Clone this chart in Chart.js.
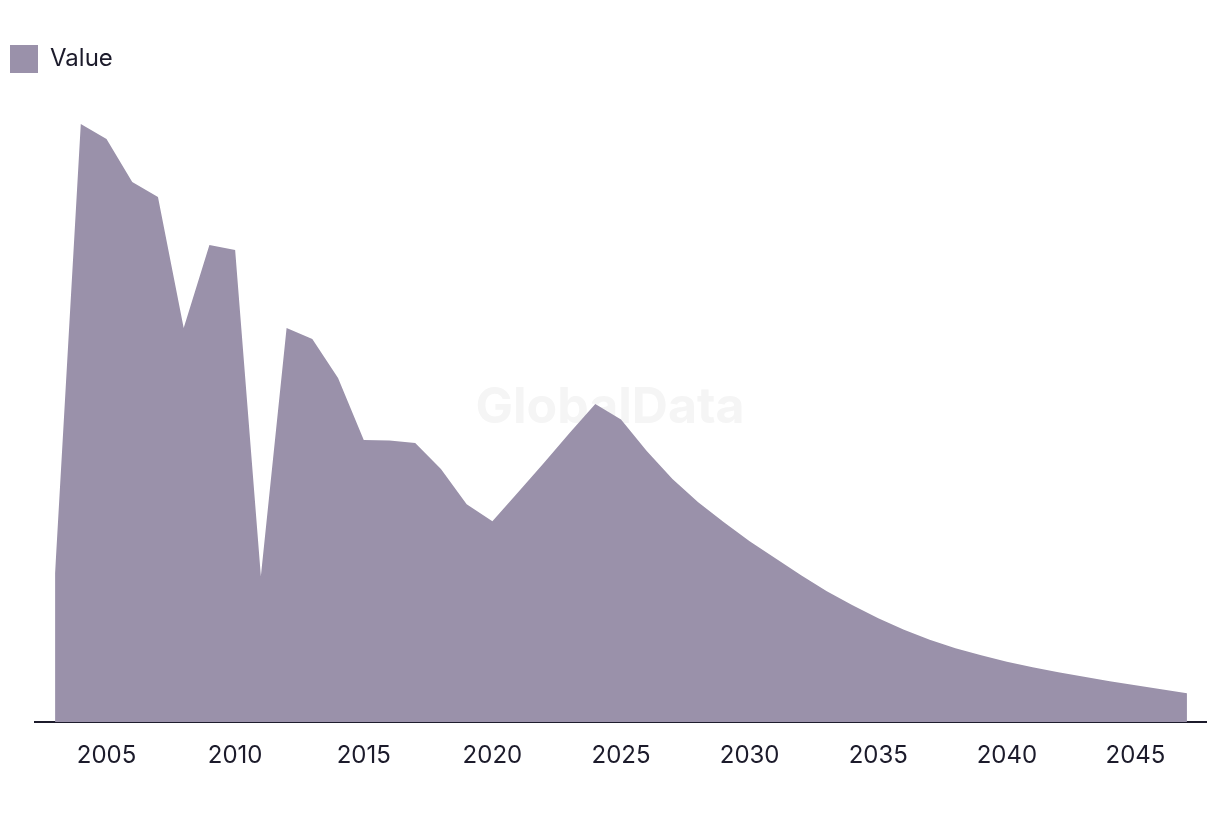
<!DOCTYPE html>
<html>
<head>
<meta charset="utf-8">
<script src="https://cdn.jsdelivr.net/npm/chart.js@4.4.1/dist/chart.umd.min.js"></script>
<style>
  html, body { margin: 0; padding: 0; background: #ffffff; }
  #wrap { width: 1220px; height: 814px; }
</style>
</head>
<body>
<div id="wrap"><canvas id="areaChart"></canvas></div>
<script>
// data
const years = [2003, 2004, 2005, 2006, 2007, 2008, 2009, 2010, 2011, 2012,
	2013, 2014, 2015, 2016, 2017, 2018, 2019, 2020, 2021, 2022,
	2023, 2024, 2025, 2026, 2027, 2028, 2029, 2030, 2031, 2032,
	2033, 2034, 2035, 2036, 2037, 2038, 2039, 2040, 2041, 2042,
	2043, 2044, 2045, 2046, 2047];
const values = [14.9, 59.8, 58.3, 54.0, 52.5, 39.4, 47.7, 47.2, 14.6, 39.4,
	38.3, 34.4, 28.2, 28.15, 27.9, 25.3, 21.8, 20.1, 23.0, 25.9,
	28.9, 31.8, 30.25, 27.1, 24.3, 22.0, 20.0, 18.1, 16.4, 14.7,
	13.1, 11.7, 10.4, 9.25, 8.25, 7.4, 6.7, 6.05, 5.5, 5.0,
	4.55, 4.1, 3.7, 3.3, 2.9];
const tickYears = [2005, 2010, 2015, 2020, 2025, 2030, 2035, 2040, 2045];
const seriesName = 'Value';

const fillColor = '#9a91aa';
const inkColor = '#1c1b2b';

// faint watermark behind the area
const watermark = {
	id: 'watermark',
	beforeDatasetsDraw(chart) {
		const ctx = chart.ctx;
		ctx.save();
		ctx.font = 'bold 50px Inter';
		ctx.fillStyle = '#f5f5f5';
		ctx.textAlign = 'center';
		ctx.textBaseline = 'middle';
		ctx.fillText('GlobalData', 610, 408);
		ctx.restore();
	}
};

let areaChart = new Chart(document.getElementById('areaChart'), {
	type: 'line',
	data: {
		datasets: [{
			label: seriesName,
			data: years.map((yr, i) => ({ x: yr, y: values[i] })),
			backgroundColor: fillColor,
			borderColor: fillColor,
			borderWidth: 0,
			pointRadius: 0,
			fill: 'origin',
			tension: 0
		}]
	},
	options: {
		responsive: true,
		maintainAspectRatio: false,
		animation: false,
		layout: { padding: { left: 0, right: 14, top: 35, bottom: 25 } },
		plugins: {
			legend: {
				position: 'top',
				align: 'start',
				labels: {
					boxWidth: 28,
					boxHeight: 28,
					padding: 10,
					color: inkColor,
					font: { family: 'Inter', size: 24 }
				}
			},
			tooltip: { enabled: false }
		},
		scales: {
			x: {
				type: 'linear',
				min: 2002.22,
				max: 2047.74,
				afterBuildTicks: (scale) => {
					scale.ticks = tickYears.map(v => ({ value: v }));
				},
				grid: { display: false, drawTicks: false },
				border: { display: true, color: inkColor, width: 2 },
				ticks: {
					color: inkColor,
					padding: 19,
					maxRotation: 0,
					font: { family: 'Inter', size: 24 },
					callback: (v) => String(v)
				}
			},
			y: {
				min: 0,
				max: 63.9,
				afterFit: (scale) => { scale.width = 35; },
				grid: { display: false },
				border: { display: false },
				ticks: { display: false }
			}
		}
	},
	plugins: [watermark]
});
</script>
</body>
</html>
